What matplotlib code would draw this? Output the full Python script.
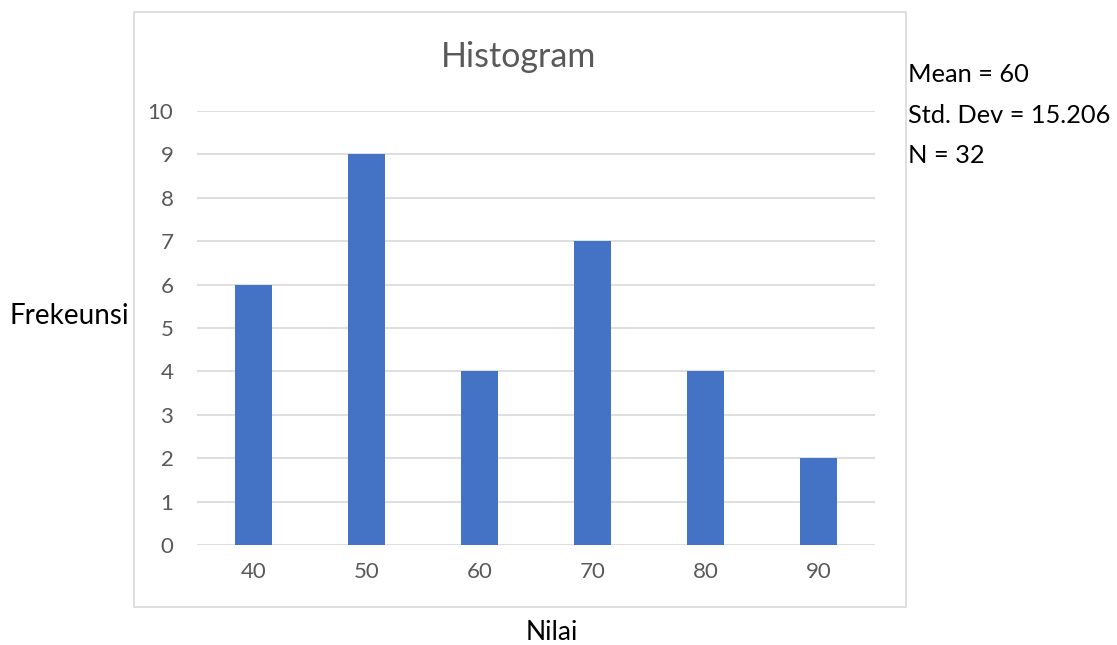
import matplotlib
matplotlib.use("Agg")
import matplotlib.pyplot as plt
from matplotlib.patches import Rectangle

categories = ["40", "50", "60", "70", "80", "90"]
frequencies = [6, 9, 4, 7, 4, 2]
yticks = list(range(0, 11))
stats_lines = ["Mean = 60", "Std. Dev = 15.206", "N = 32"]

plt.rcParams['font.family'] = ['Lato', 'DejaVu Sans']

W, H = 1117, 645
fig = plt.figure(figsize=(W / 100, H / 100), dpi=100)

# chart border
fig.patches.append(Rectangle((134 / W, 1 - 607 / H), 772 / W, 595 / H,
                             transform=fig.transFigure, fill=False,
                             edgecolor="#D9D9D9", linewidth=1.2))

ax = fig.add_axes([197 / W, 1 - 545 / H, 678 / W, 434 / H])
x = list(range(len(categories)))
ax.bar(x, frequencies, width=0.32, color="#4472C4", zorder=3)
ax.set_xlim(-0.5, len(categories) - 0.5)
ax.set_ylim(0, 10)
ax.set_yticks(yticks)
ax.set_xticks(x)
ax.set_xticklabels(categories)
ax.yaxis.grid(True, color="#D9D9D9", linewidth=1.2, zorder=0)
for s in ax.spines.values():
    s.set_visible(False)
ax.tick_params(axis="both", length=0, labelcolor="#595959", labelsize=16)
ax.tick_params(axis="y", pad=17)
ax.tick_params(axis="x", pad=12)

fig.text(519 / W, 1 - 57 / H, "Histogram", ha="center", va="center",
         fontsize=24.5, color="#595959")
fig.text(10 / W, 1 - 316 / H, "Frekeunsi", ha="left", va="center",
         fontsize=20, color="black")
fig.text(552 / W, 1 - 632 / H, "Nilai", ha="center", va="center",
         fontsize=19, color="black")
for i, line in enumerate(stats_lines):
    fig.text(908 / W, 1 - (75 + 40.5 * i) / H, line, ha="left", va="center",
             fontsize=18.3, color="black")

fig.savefig("out.png", dpi=100)
